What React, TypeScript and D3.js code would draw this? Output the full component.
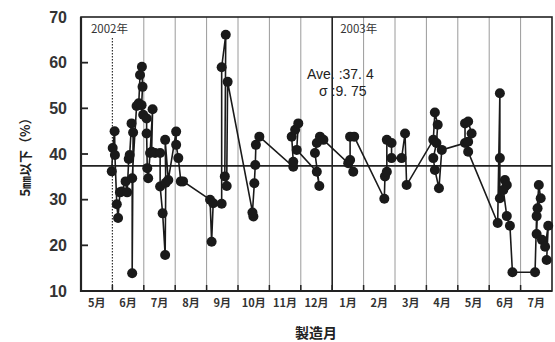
import React from "react";
import * as d3 from "d3";

// month position: 0 = start of May 2002, 1 = start of June 2002, ... 15 = start of Aug 2003
const monthPos = [
  0.98, 1.01, 1.07, 1.08, 1.14, 1.18, 1.24, 1.3, 1.42, 1.47, 1.52, 1.55, 1.61, 1.66, 1.63, 1.63,
  1.77, 1.84, 1.88, 1.94, 1.96, 1.93, 1.98, 2.09, 2.09, 2.11, 2.14, 2.2, 2.28, 2.25, 2.36, 2.52, 2.52, 2.6, 2.68, 2.7, 2.68, 2.78,
  3.03, 3.03, 3.1, 3.18, 3.25,
  4.11, 4.16, 4.21, 4.48, 4.48, 4.61, 4.58, 4.64, 4.67,
  5.49, 5.46, 5.52, 5.55, 5.57, 5.68,
  6.76, 6.76, 6.71, 6.82, 6.92, 6.87,
  7.51, 7.59, 7.45, 7.51, 7.61, 7.72,
  8.51, 8.67, 8.57, 8.57, 8.7,
  9.66, 9.68, 9.74, 9.74, 9.89, 9.89,
  10.21, 10.32, 10.37,
  11.22, 11.27, 11.36, 11.32, 11.22, 11.27, 11.4, 11.49,
  12.23, 12.23, 12.33, 12.44, 12.33, 12.33,
  13.27, 13.34, 13.34, 13.34, 13.5, 13.56, 13.45, 13.56, 13.66, 13.74,
  14.46, 14.51, 14.58, 14.64, 14.54, 14.51, 14.68, 14.78, 14.88, 14.83,
];
const values = [
  36.2, 41.3, 45.0, 39.8, 29.0, 26.0, 31.6, 31.8, 34.0, 31.6, 38.9, 39.8, 46.7, 44.7, 13.9, 34.7,
  50.5, 51.1, 57.3, 59.1, 54.7, 50.7, 48.6, 47.8, 44.5, 36.9, 34.7, 40.2, 49.8, 40.5, 40.2, 40.2, 32.9, 27.0, 17.9, 33.7, 43.1, 34.3,
  44.9, 42.0, 39.1, 34.0, 34.0,
  30.0, 20.8, 29.2, 29.1, 59.0, 66.1, 35.1, 33.0, 55.8,
  26.3, 27.2, 33.6, 37.6, 42.0, 43.8,
  37.2, 38.3, 43.8, 45.3, 46.7, 40.9,
  36.1, 33.0, 40.2, 42.4, 43.8, 43.1,
  38.0, 36.1, 38.7, 43.8, 43.8,
  30.2, 35.1, 36.1, 43.1, 42.4, 39.1,
  39.1, 44.5, 33.2,
  43.1, 49.1, 46.4, 42.4, 39.1, 36.5, 32.5, 40.9,
  42.4, 46.7, 47.1, 44.5, 42.7, 40.5,
  24.9, 53.3, 39.1, 30.3, 34.3, 33.2, 32.1, 26.4, 24.3, 14.1,
  14.1, 26.4, 33.2, 30.3, 28.1, 22.5, 21.2, 19.7, 24.3, 16.8,
];
const monthLabels = ["5月", "6月", "7月", "8月", "9月", "10月", "11月", "12月", "1月", "2月", "3月", "4月", "5月", "6月", "7月"];
const yTicks = [10, 20, 30, 40, 50, 60, 70];
const average = 37.4;
const sigma = "9. 75";
const aveText = "37. 4";
const yearMarks = [
  { pos: 1, label: "2002年" },
  { pos: 8, label: "2003年" },
];

const W = 555;
const H = 342;
const L = 81, R = 552, T = 17, B = 291;

export default function App() {
  const x = d3.scaleLinear().domain([0, monthLabels.length]).range([L, R]);
  const y = d3.scaleLinear().domain([10, 70]).range([B, T]);
  const pts = monthPos.map((m, i) => [x(m), y(values[i])] as [number, number]);
  const line = d3.line()(pts) || "";
  const boundaries = d3.range(1, monthLabels.length);
  const textCol = "#333";
  const jp = "'Noto Sans CJK JP', 'Liberation Sans', sans-serif";
  const num = "'Liberation Sans Narrow', 'Liberation Sans', Arial, sans-serif";

  return (
    <svg width={W} height={H} style={{ position: "absolute", left: 0, top: 0, background: "#fff" }}>
      {/* vertical month grid lines */}
      {boundaries.map((b) => {
        if (b === 1) {
          return (
            <line key={b} x1={x(b)} x2={x(b)} y1={38} y2={B} stroke="#333" strokeWidth={1.2} strokeDasharray="1.5,1.5" />
          );
        }
        if (b === 8) {
          return <line key={b} x1={x(b)} x2={x(b)} y1={T} y2={B} stroke="#222" strokeWidth={1.6} />;
        }
        return <line key={b} x1={x(b)} x2={x(b)} y1={T} y2={B} stroke="#9a9a9a" strokeWidth={1} />;
      })}
      {/* bottom ticks */}
      {boundaries.map((b) => (
        <line key={"bt" + b} x1={x(b)} x2={x(b)} y1={B - 6} y2={B} stroke="#222" strokeWidth={1.5} />
      ))}
      {/* average line */}
      <line x1={L} x2={R} y1={y(average)} y2={y(average)} stroke="#222" strokeWidth={1.8} />
      {/* plot frame */}
      <rect x={L} y={T} width={R - L} height={B - T} fill="none" stroke="#222" strokeWidth={1.6} />
      <line x1={L} x2={L} y1={T} y2={B + 1} stroke="#222" strokeWidth={2.2} />
      <line x1={L - 1} x2={R} y1={B} y2={B} stroke="#222" strokeWidth={2.2} />
      {/* y ticks */}
      {yTicks.map((t) => (
        <g key={t}>
          {t !== 10 && t !== 70 && (
            <line x1={L} x2={L + 7} y1={y(t)} y2={y(t)} stroke="#222" strokeWidth={1.8} />
          )}
          <text x={67} y={y(t)} dy="0.36em" textAnchor="end" fontFamily={num} fontWeight="bold" fontSize={16} fill={textCol}>
            {t}
          </text>
        </g>
      ))}
      {/* month labels */}
      {monthLabels.map((m, i) => (
        <text key={"m" + i} x={x(i + 0.5)} y={303} dy="0.35em" textAnchor="middle" fontFamily={jp} fontWeight="bold" fontSize={11} fill={textCol}>
          {m}
        </text>
      ))}
      {/* year labels */}
      {yearMarks.map((ym) => (
        <text
          key={ym.label}
          x={ym.pos === 1 ? x(ym.pos) - 3 : x(ym.pos) + 8}
          y={29}
          dy="0.35em"
          textAnchor={ym.pos === 1 ? "middle" : "start"}
          fontFamily={jp}
          fontSize={11.5}
          fill={textCol}
        >
          {ym.label}
        </text>
      ))}
      {/* data line & points */}
      <path d={line} fill="none" stroke="#1a1a1a" strokeWidth={1.6} />
      {pts.map((p, i) => (
        <circle key={"p" + i} cx={p[0]} cy={p[1]} r={5} fill="#1a1a1a" />
      ))}
      {/* statistics */}
      <text x={307} y={74} dy="0.35em" fontFamily={num} fontSize={14} fill="#222">
        {"Ave. :" + aveText}
      </text>
      <text x={319} y={91} dy="0.35em" fontFamily={num} fontSize={14} fill="#222">
        {"σ :" + sigma}
      </text>
      {/* axis titles */}
      <text x={316} y={333} dy="0.35em" textAnchor="middle" fontFamily={jp} fontWeight="bold" fontSize={14} fill="#222">
        製造月
      </text>
      <text
        transform={`translate(25, ${(T + B) / 2}) rotate(-90)`}
        textAnchor="middle"
        dy="0.35em"
        fontFamily={jp}
        fontWeight="bold"
        fontSize={13}
        fill="#222"
      >
        5㎜以下（%）
      </text>
    </svg>
  );
}
